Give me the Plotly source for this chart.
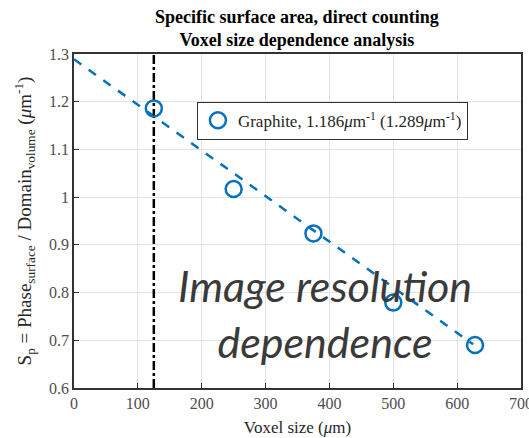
import plotly.graph_objects as go

# Voxel size sweep and measured specific surface area
voxel_size = [125, 250, 375, 500, 628]
sp_values = [1.186, 1.017, 0.924, 0.779, 0.690]

# Linear extrapolation to zero voxel size
fit_intercept = 1.289
fit_slope = -0.000956
fit_x = [0, 625]
reference_voxel = 125

x_ticks = [0, 100, 200, 300, 400, 500, 600]
y_ticks = [0.6, 0.7, 0.8, 0.9, 1.0, 1.1, 1.2, 1.3]
y_tick_text = ["0.6", "0.7", "0.8", "0.9", "1", "1.1", "1.2", "1.3"]

blue = "#0072BD"
serif = "Liberation Serif, Times New Roman, serif"
tick_grey = "#4d4d4d"

fig = go.Figure()

fig.add_trace(go.Scatter(
    x=fit_x, y=[fit_intercept + fit_slope * v for v in fit_x],
    mode="lines", line=dict(color=blue, width=2.5, dash="dash"),
    showlegend=False, hoverinfo="skip",
))

fig.add_trace(go.Scatter(
    x=[reference_voxel, reference_voxel], y=[0.6, 1.3],
    mode="lines", line=dict(color="black", width=2.5, dash="dashdot"),
    showlegend=False, hoverinfo="skip",
))

fig.add_trace(go.Scatter(
    x=voxel_size, y=sp_values, mode="markers",
    marker=dict(symbol="circle-open", size=16, line=dict(color=blue, width=2.5), color=blue),
    name="Graphite, 1.186<i>μ</i>m<sup>-1</sup> (1.289<i>μ</i>m<sup>-1</sup>)",
))

# Overlay caption
fig.add_annotation(
    x=393, y=0.757, xref="x", yref="y",
    text="<i>Image resolution<br>dependence</i>",
    showarrow=False,
    font=dict(family="Lato, sans-serif", size=43, color="#3a3a3a"),
    align="center",
)

# Two-line bold title
fig.add_annotation(
    x=0.499, y=1.075, xref="paper", yref="paper",
    text="<b>Specific surface area, direct counting<br>Voxel size dependence analysis</b>",
    showarrow=False, xanchor="center", yanchor="middle",
    font=dict(family=serif, size=18, color="black"),
)

# Last x tick label sits on the right edge of the canvas
fig.add_annotation(
    x=700, y=-0.045, xref="x", yref="paper",
    text="700", showarrow=False, xanchor="center", yanchor="middle",
    font=dict(family=serif, size=16, color=tick_grey),
)

fig.update_layout(
    width=529, height=438,
    margin=dict(l=74, r=8, t=54, b=50),
    paper_bgcolor="white", plot_bgcolor="white",
    font=dict(family=serif, size=16, color=tick_grey),
    legend=dict(
        x=0.275, y=0.857, xanchor="left", yanchor="top",
        bgcolor="white", bordercolor="#333333", borderwidth=1,
        font=dict(family=serif, size=17, color="#262626"),
    ),
    xaxis=dict(
        range=[0, 700], tickvals=x_ticks, ticks="inside", ticklen=5,
        showgrid=True, gridcolor="#e3e3e3", gridwidth=1,
        showline=True, linecolor="#333333", linewidth=1.5, mirror=True,
        zeroline=False, tickcolor="#333333", automargin=False,
        title=dict(text="Voxel size (<i>μ</i>m)", font=dict(family=serif, size=17, color="#262626"), standoff=10),
    ),
    yaxis=dict(
        range=[0.6, 1.3], tickvals=y_ticks, ticktext=y_tick_text, ticks="inside", ticklen=5,
        showgrid=True, gridcolor="#e3e3e3", gridwidth=1,
        showline=True, linecolor="#333333", linewidth=1.5, mirror=True,
        zeroline=False, tickcolor="#333333", automargin=False,
        title=dict(
            text="S<sub>p</sub> = Phase<sub>surface</sub> / Domain<sub>volume</sub> (<i>μ</i>m<sup>-1</sup>)",
            font=dict(family=serif, size=19, color="#262626"), standoff=12,
        ),
    ),
)

fig.write_html("out.html")
